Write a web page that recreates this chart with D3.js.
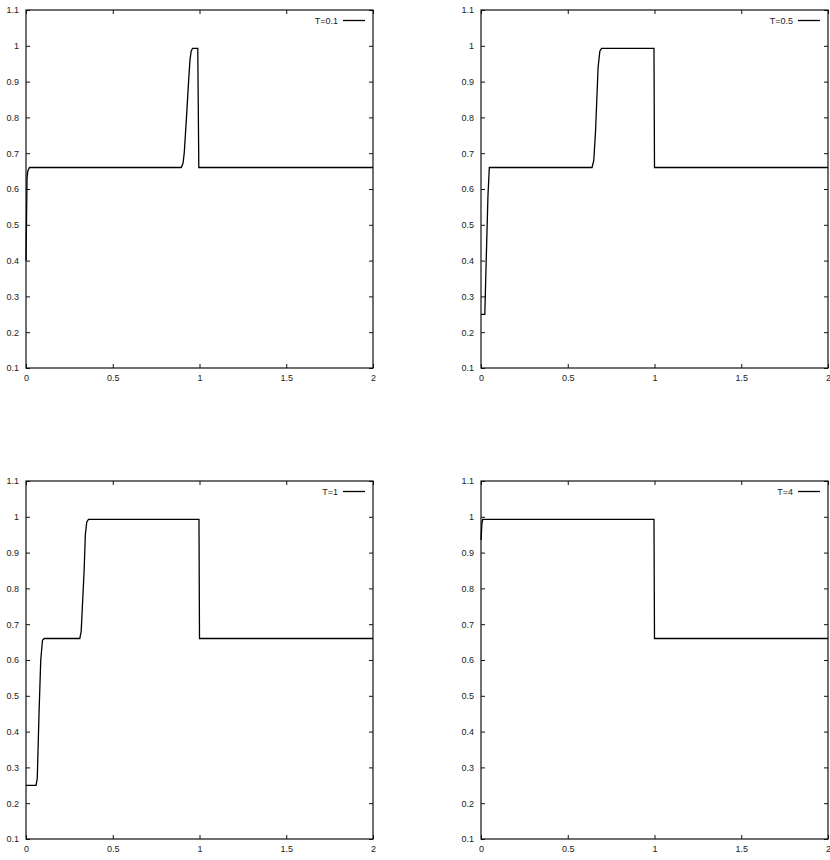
<!DOCTYPE html>
<html><head><meta charset="utf-8">
<script src="https://cdn.jsdelivr.net/npm/d3@7"></script>
<style>body{margin:0;background:#fff}svg{display:block}text{font-family:"Liberation Sans Narrow","Liberation Sans",Arial,sans-serif;font-size:9px;fill:#222}</style>
</head><body><svg id="c" width="830" height="860"></svg>
<script>
const labels = ["T=0.1","T=0.5","T=1","T=4"];
const xs01 = [0,0.006,0.01,0.02,0.895,0.905,0.912,0.925,0.937,0.945,0.952,0.96,0.99,0.996,2];
const ys01 = [0.40,0.63,0.65,0.66,0.66,0.672,0.70,0.80,0.90,0.96,0.985,0.993,0.993,0.66,0.66];
const xs05 = [0,0.022,0.03,0.04,0.048,0.64,0.65,0.66,0.67,0.675,0.685,0.695,0.997,1.0,2];
const ys05 = [0.25,0.25,0.40,0.58,0.66,0.66,0.68,0.76,0.88,0.94,0.985,0.993,0.993,0.66,0.66];
const xs1 = [0,0.058,0.065,0.075,0.085,0.095,0.105,0.31,0.318,0.325,0.335,0.342,0.35,0.36,0.997,1.0,2];
const ys1 = [0.25,0.25,0.27,0.45,0.60,0.655,0.66,0.66,0.68,0.75,0.85,0.95,0.985,0.993,0.993,0.66,0.66];
const xs4 = [0,0.005,0.01,0.997,1.0,2];
const ys4 = [0.935,0.98,0.993,0.993,0.66,0.66];
const seriesX = [xs01,xs05,xs1,xs4];
const seriesY = [ys01,ys05,ys1,ys4];
const xTicks = [0,0.5,1,1.5,2];
const yTicks = [0.1,0.2,0.3,0.4,0.5,0.6,0.7,0.8,0.9,1,1.1];

const svg = d3.select("#c");
const W = 347, H = 358;
const origins = [[26,10],[481,10],[26,481],[481,481]];
const fmt = d => (Math.round(d*10)/10).toString();

origins.forEach(([ox,oy],i)=>{
  const g = svg.append("g").attr("transform",`translate(${ox},${oy})`);
  const x = d3.scaleLinear().domain([0,2]).range([0,W]);
  const y = d3.scaleLinear().domain([0.1,1.1]).range([H,0]);
  const tl = 4;
  // inward ticks on all four sides
  g.append("g").attr("transform",`translate(0,${H})`).call(d3.axisBottom(x).tickValues(xTicks).tickSize(-tl).tickPadding(7).tickFormat(fmt));
  g.append("g").call(d3.axisTop(x).tickValues(xTicks).tickSize(-tl).tickFormat(""));
  g.append("g").call(d3.axisLeft(y).tickValues(yTicks).tickSize(-tl).tickPadding(7).tickFormat(fmt));
  g.append("g").attr("transform",`translate(${W},0)`).call(d3.axisRight(y).tickValues(yTicks).tickSize(-tl).tickFormat(""));
  g.selectAll(".domain").remove();
  g.selectAll(".tick line").attr("stroke","#111");
  g.selectAll(".tick text").attr("fill","#222").style("font-size","9px").attr("font-family",null);
  g.append("rect").attr("width",W).attr("height",H).attr("fill","none").attr("stroke","#111").attr("stroke-width",1.2);
  const pts = seriesX[i].map((v,k)=>[v,seriesY[i][k]]);
  g.append("path").datum(pts).attr("fill","none").attr("stroke","#000").attr("stroke-width",1.3)
    .attr("d",d3.line().x(d=>x(d[0])).y(d=>y(d[1])));
  // legend
  g.append("text").attr("x",W-35).attr("y",14).attr("text-anchor","end").text(labels[i]);
  g.append("line").attr("x1",W-30).attr("x2",W-8).attr("y1",10.5).attr("y2",10.5).attr("stroke","#000").attr("stroke-width",1.3);
});
</script></body></html>
